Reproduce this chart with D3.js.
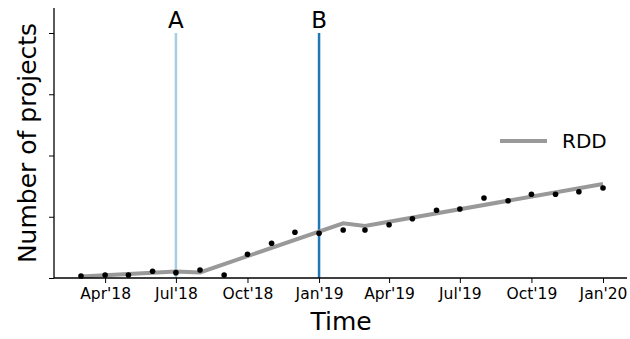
<!DOCTYPE html>
<html lang="en">
    <head>
        <meta charset="utf-8">
        <title>Number of projects over time</title>
        <script type="text/javascript" src="https://cdn.jsdelivr.net/npm/d3@7"></script>
        <style type="text/css">
            body { margin: 0; background: #fff; }
            text { font-family: "DejaVu Sans", sans-serif; fill: #000; }
        </style>
    </head>
    <body>
        <script type="text/javascript">

            //Monthly observations (first of each month, Mar'18 .. Jan'20)
            var months = ["2018-03","2018-04","2018-05","2018-06","2018-07","2018-08","2018-09",
                          "2018-10","2018-11","2018-12","2019-01","2019-02","2019-03","2019-04",
                          "2019-05","2019-06","2019-07","2019-08","2019-09","2019-10","2019-11",
                          "2019-12","2020-01"];
            var projects = [33, 49, 49, 109, 87, 131, 49, 387, 567, 746, 730, 784, 784, 870,
                            968, 1105, 1127, 1306, 1262, 1367, 1367, 1409, 1469];

            //RDD fit, breakpoints of the piecewise line
            var rddMonths = ["2018-03","2018-07","2018-08","2019-02","2019-03","2020-01"];
            var rddValues = [25, 106, 90, 893, 849, 1535];

            //Interventions
            var eventMonths = ["2018-07","2019-01"];
            var eventLabels = ["A","B"];
            var eventColors = ["#a6cee3","#1f78b4"];

            var yTicks = [0, 1000, 2000, 3000, 4000];
            var xTicks = ["2018-04","2018-07","2018-10","2019-01","2019-04","2019-07","2019-10","2020-01"];

            var parse = d3.timeParse("%Y-%m");

            //Width and height
            var w = 630;
            var h = 339;

            var svg = d3.select("body")
                        .append("svg")
                        .attr("width", w)
                        .attr("height", h);

            //Scales
            var x0 = d3.scaleTime()
                       .domain([parse("2018-03"), parse("2020-01")])
                       .range([81, 603]);
            var x = d3.scaleTime()
                      .domain([x0.invert(54), x0.invert(627)])
                      .range([54, 627]);
            var y = d3.scaleLinear()
                      .domain([0, 4000])
                      .range([278, 33]);
            var yTop = 8;

            //Event lines
            eventMonths.forEach(function(m, i) {
                svg.append("line")
                   .attr("x1", x(parse(m))).attr("x2", x(parse(m)))
                   .attr("y1", y(4000)).attr("y2", y(0))
                   .style("stroke", eventColors[i])
                   .style("stroke-width", 2.5);
                svg.append("text")
                   .attr("x", x(parse(m)))
                   .attr("y", y(4000) - 5)
                   .attr("text-anchor", "middle")
                   .style("font-size", "23px")
                   .text(eventLabels[i]);
            });

            //RDD line
            var rdd = rddMonths.map(function(m, i) { return {date: parse(m), value: rddValues[i]}; });
            svg.append("path")
               .datum(rdd)
               .attr("d", d3.line()
                            .x(function(d) { return x(d.date); })
                            .y(function(d) { return y(d.value); }))
               .style("fill", "none")
               .style("stroke", "#999")
               .style("stroke-width", 4);

            //Observed points
            var pts = months.map(function(m, i) { return {date: parse(m), value: projects[i]}; });
            svg.selectAll("circle")
               .data(pts)
               .enter()
               .append("circle")
               .attr("cx", function(d) { return x(d.date); })
               .attr("cy", function(d) { return y(d.value); })
               .attr("r", 2.8)
               .style("fill", "#000");

            //X axis
            var xAxis = d3.axisBottom(x)
                          .tickValues(xTicks.map(parse))
                          .tickFormat(d3.timeFormat("%b'%y"))
                          .tickSize(5)
                          .tickPadding(5);
            var gx = svg.append("g")
                        .attr("transform", "translate(0," + y(0) + ")")
                        .call(xAxis);
            gx.select(".domain").attr("d", "M54,0H627").style("stroke-width", 1.3);
            gx.selectAll("text").style("font-size", "15.5px").attr("font-family", null);

            //Y axis, no labels
            var yAxis = d3.axisLeft(y)
                          .tickValues(yTicks)
                          .tickFormat("")
                          .tickSize(5);
            var gy = svg.append("g")
                        .attr("transform", "translate(54,0)")
                        .call(yAxis);
            gy.select(".domain").attr("d", "M0," + yTop + "V" + y(0)).style("stroke-width", 1.3);

            //Axis titles
            svg.append("text")
               .attr("x", x(parse("2019-01")) + 22)
               .attr("y", 330)
               .attr("text-anchor", "middle")
               .style("font-size", "25px")
               .text("Time");
            svg.append("text")
               .attr("transform", "translate(36,143) rotate(-90)")
               .attr("text-anchor", "middle")
               .style("font-size", "25px")
               .text("Number of projects");

            //Legend
            svg.append("line")
               .attr("x1", 500).attr("x2", 547)
               .attr("y1", 141).attr("y2", 141)
               .style("stroke", "#999")
               .style("stroke-width", 4);
            svg.append("text")
               .attr("x", 562)
               .attr("y", 148)
               .style("font-size", "20px")
               .text("RDD");

        </script>
    </body>
</html>
